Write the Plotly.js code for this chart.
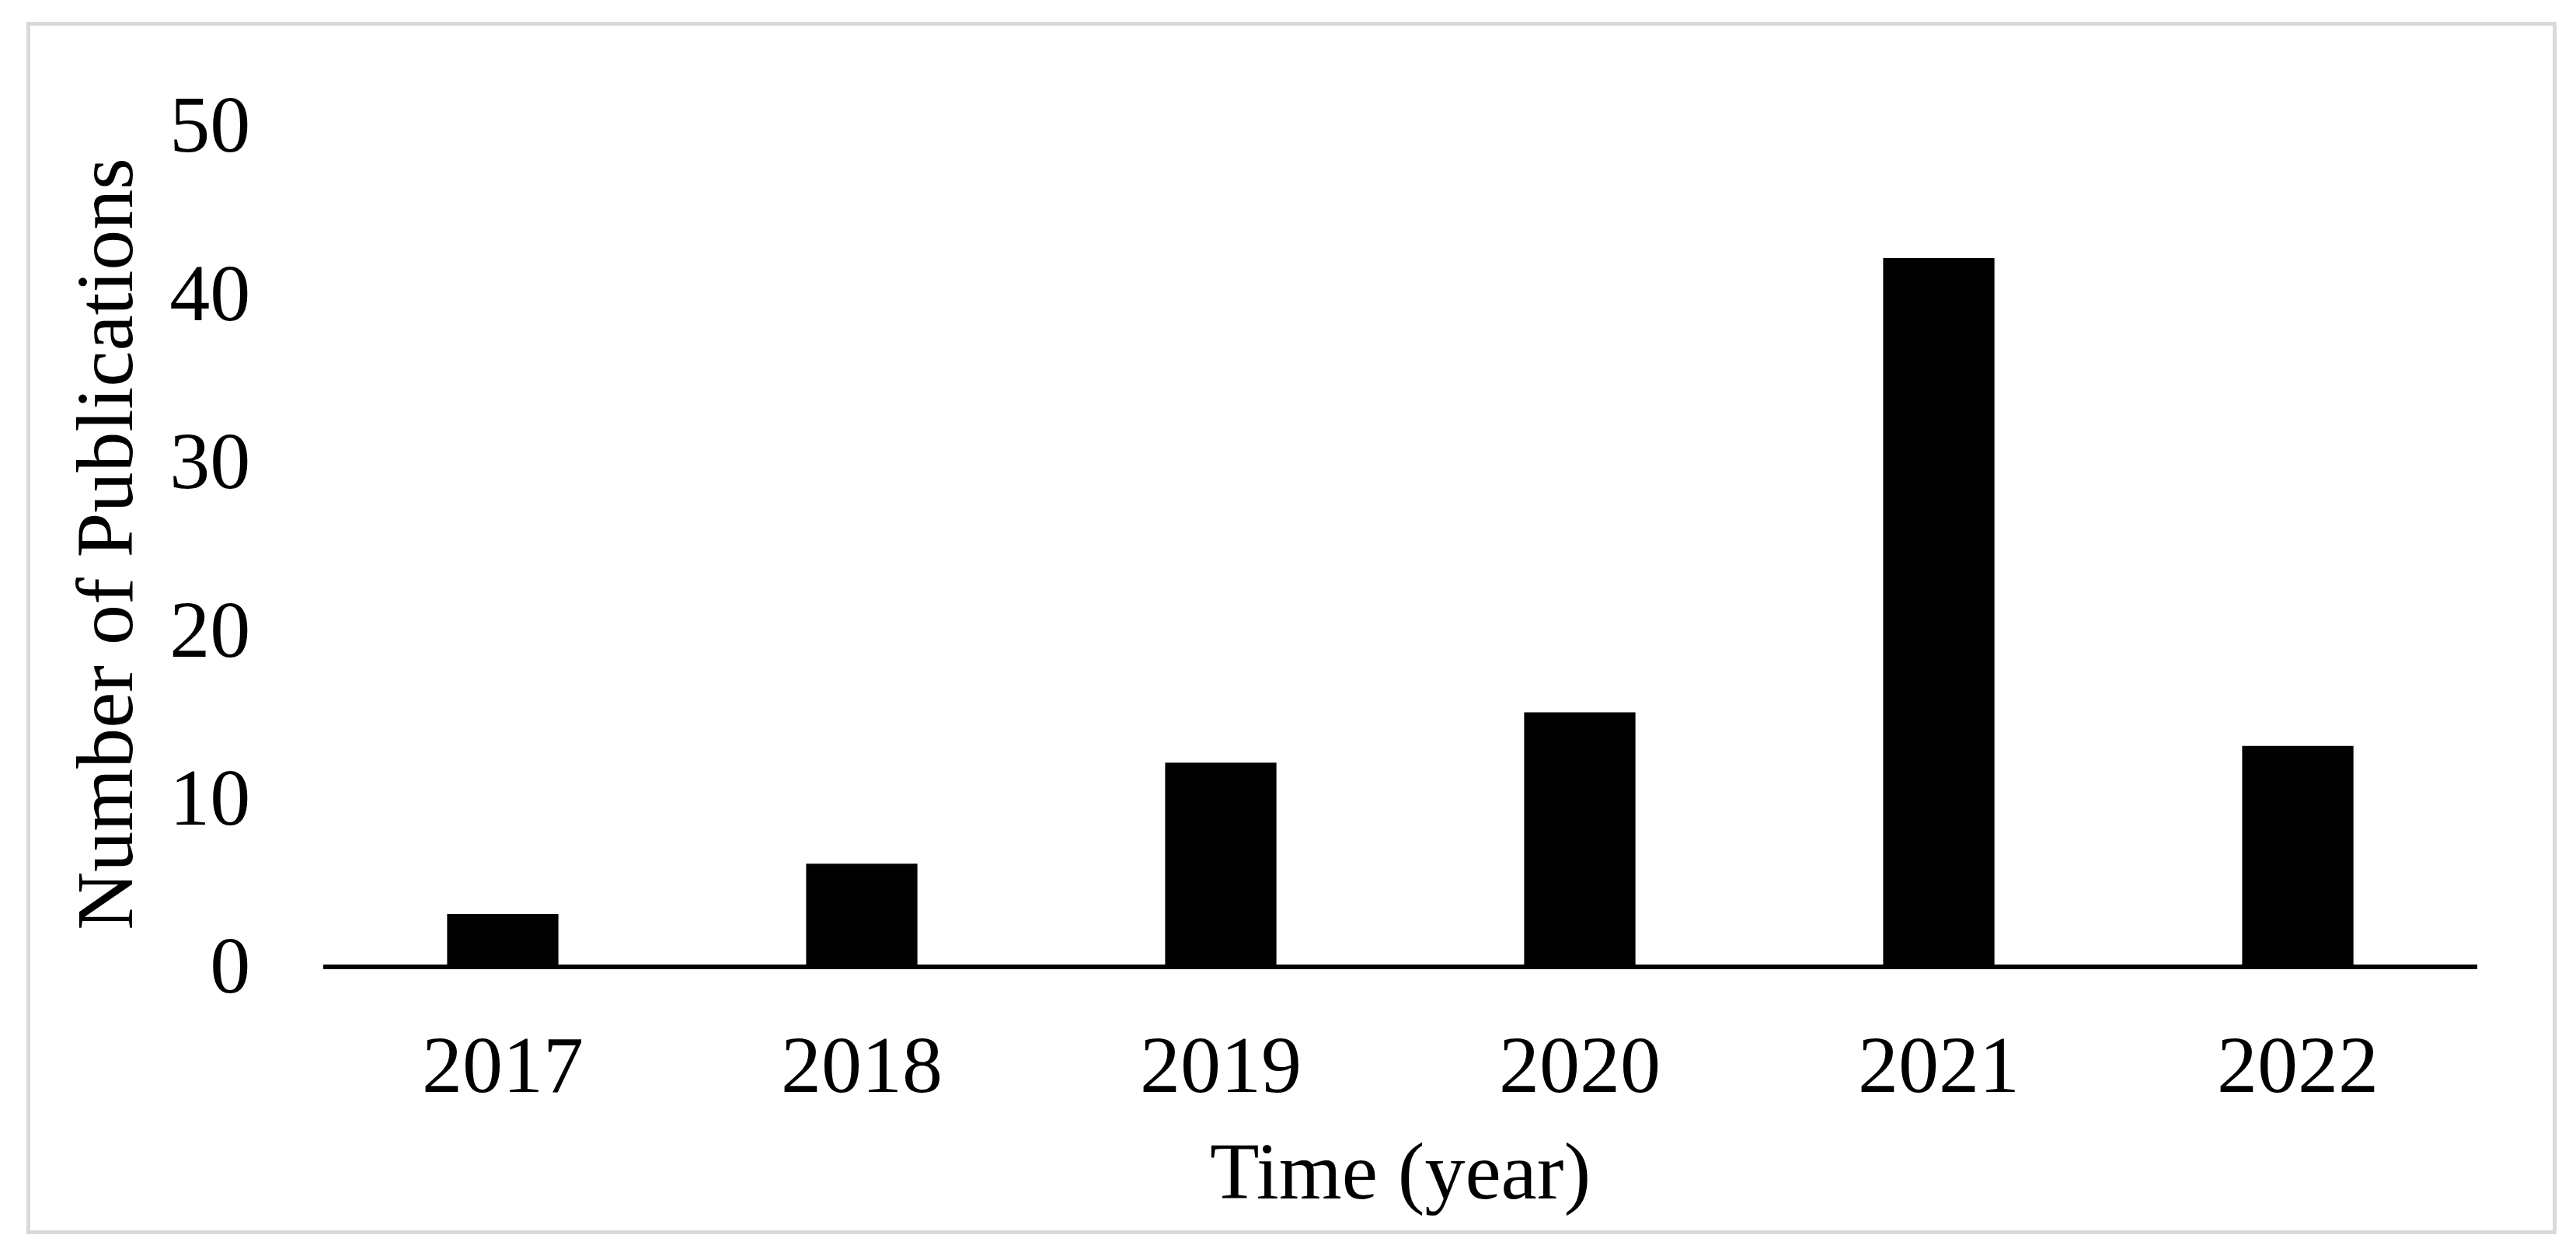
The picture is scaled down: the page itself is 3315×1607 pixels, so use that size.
<!DOCTYPE html>
<html>
<head>
<meta charset="utf-8">
<script src="https://cdn.plot.ly/plotly-3.0.1.min.js"></script>
<style>
  html, body { margin: 0; padding: 0; background: #ffffff; }
  #wrap { position: relative; width: 3315px; height: 1607px; }
  #chart { position: absolute; left: 0; top: 0; width: 3315px; height: 1607px; }
  #frame { position: absolute; left: 34px; top: 28px; width: 3246px; height: 1550px;
           border: 5px solid #d9d9d9; pointer-events: none; }
</style>
</head>
<body>
<div id="wrap">
  <div id="chart"></div>
  <div id="frame"></div>
</div>
<script>
const years = ['2017', '2018', '2019', '2020', '2021', '2022'];
const publications = [3, 6, 12, 15, 42, 13];
const yTicks = [0, 10, 20, 30, 40, 50];

const fontFamily = '"Liberation Serif", "Times New Roman", serif';
const fs = 104;

const trace = {
  type: 'bar',
  x: years,
  y: publications,
  marker: { color: '#000000', line: { width: 0 } },
  hoverinfo: 'x+y'
};

const layout = {
  width: 3315,
  height: 1607,
  margin: { l: 416, r: 127, t: 159, b: 366 },
  paper_bgcolor: '#ffffff',
  plot_bgcolor: '#ffffff',
  bargap: 0.69,
  showlegend: false,
  font: { family: fontFamily, color: '#000000', size: fs },
  xaxis: {
    type: 'category',
    showline: true,
    linecolor: '#000000',
    linewidth: 6,
    showgrid: false,
    zeroline: false,
    ticks: 'outside',
    ticklen: 33,
    tickcolor: 'rgba(0,0,0,0)',
    tickfont: { family: fontFamily, size: fs, color: '#000000' },
    title: { text: 'Time (year)', font: { family: fontFamily, size: fs, color: '#000000' }, standoff: 45 }
  },
  yaxis: {
    range: [0, 50],
    tickvals: yTicks,
    ticktext: yTicks.map(String),
    showline: false,
    showgrid: false,
    zeroline: false,
    ticks: 'outside',
    ticklen: 72,
    tickcolor: 'rgba(0,0,0,0)',
    tickfont: { family: fontFamily, size: fs, color: '#000000' },
    title: { text: 'Number of Publications', font: { family: fontFamily, size: fs, color: '#000000' }, standoff: 12 }
  }
};

Plotly.newPlot('chart', [trace], layout, { displayModeBar: false, staticPlot: true });
</script>
</body>
</html>
